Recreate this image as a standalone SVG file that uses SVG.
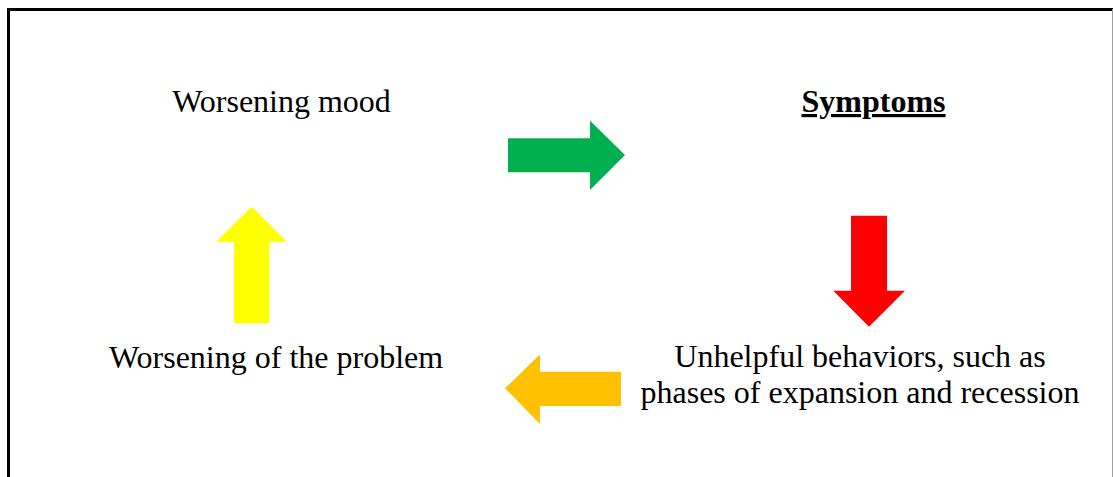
<svg xmlns="http://www.w3.org/2000/svg" width="1113" height="477" viewBox="0 0 1113 477">
  <style>
    .lbl { font-family: "Liberation Serif", "Times New Roman", serif; font-size: 32px; fill: #000; text-anchor: middle; }
    .bold { font-weight: bold; text-decoration: underline; }
  </style>
  <rect width="1113" height="477" fill="#fff"/>
  <!-- frame -->
  <rect x="8.5" y="9.5" width="1120" height="480" fill="none" stroke="#000" stroke-width="3"/>
  <line x1="1112.5" y1="9" x2="1112.5" y2="477" stroke="#a0a0a0" stroke-width="1"/>

  <g id="node-mood">
    <text class="lbl" x="281.5" y="112">Worsening mood</text>
  </g>
  <g id="node-symptoms">
    <text class="lbl bold" x="873.5" y="112">Symptoms</text>
  </g>
  <g id="node-behaviors">
    <text class="lbl" x="860" y="367">Unhelpful behaviors, such as</text>
    <text class="lbl" x="860" y="403">phases of expansion and recession</text>
  </g>
  <g id="node-problem">
    <text class="lbl" x="276" y="368">Worsening of the problem</text>
  </g>

  <g id="connectors">
    <!-- mood to symptoms -->
    <polygon fill="#00B050" points="508,138.3 590,138.3 590,120.7 625,155 590,190 590,172.3 508,172.3"/>
    <!-- symptoms to behaviors -->
    <polygon fill="#FF0000" points="851,215.7 887,215.7 887,290.7 905,290.7 869,326.7 833.3,290.7 851,290.7"/>
    <!-- behaviors to problem -->
    <polygon fill="#FFC000" points="621,371.7 540,371.7 540,354.3 505,388.3 540,424 540,406 621,406"/>
    <!-- problem to mood -->
    <polygon fill="#FFFF00" points="234,323.3 234,241.7 216,241.7 251.7,206.7 286.7,241.7 269.3,241.7 269.3,323.3"/>
  </g>
</svg>
